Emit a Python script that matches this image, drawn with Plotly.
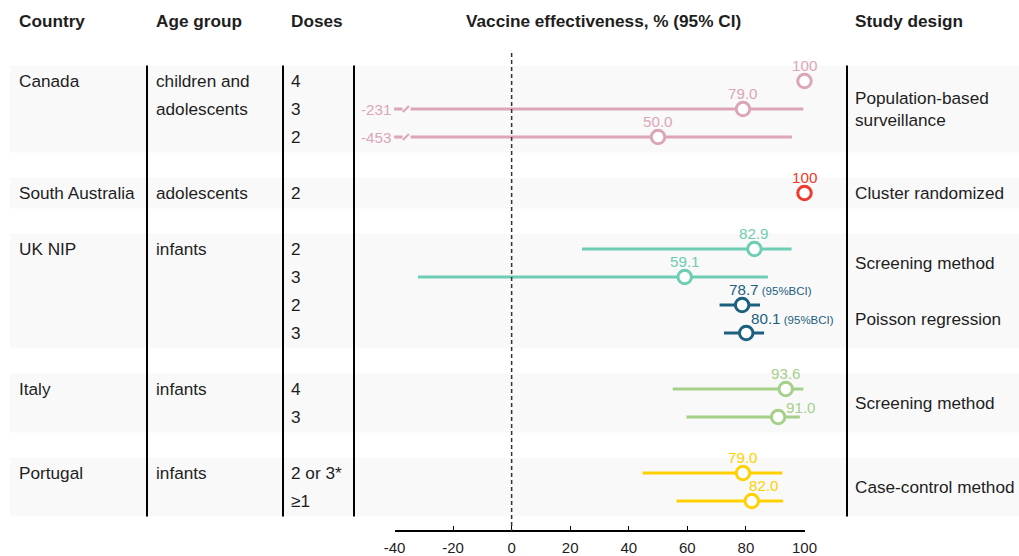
import plotly.graph_objects as go

# ---------------- data ----------------
countries = ["Canada", "South Australia", "UK NIP", "Italy", "Portugal"]
country_rows = [0, 4, 6, 11, 14]
age_lines = ["children and", "adolescents", "adolescents", "infants", "infants", "infants"]
age_rows = [0, 1, 4, 6, 11, 14]
group_first = [0, 4, 6, 11, 14]
group_last = [2, 4, 9, 12, 15]

designs = ["Population-based<br>surveillance", "Cluster randomized", "Screening method",
           "Poisson regression", "Screening method", "Case-control method"]
design_rows = [1, 4, 6.5, 8.5, 11.5, 14.5]

est_rows = [0, 1, 2, 4, 6, 7, 8, 9, 11, 12, 14, 15]
est_doses = ["4", "3", "2", "2", "2", "3", "2", "3", "4", "3", "2 or 3*", "≥1"]
est_ve = [100, 79.0, 50.0, 100, 82.9, 59.1, 78.7, 80.1, 93.6, 91.0, 79.0, 82.0]
est_labels = ["100", "79.0", "50.0", "100", "82.9", "59.1", "78.7", "80.1", "93.6", "91.0", "79.0", "82.0"]
est_lo = [None, -231, -453, None, 24.0, -32.0, 71.0, 72.5, 55.0, 59.7, 44.7, 56.3]
est_hi = [None, 99.6, 95.7, None, 95.6, 87.5, 84.8, 86.2, 99.6, 98.4, 92.4, 92.7]
est_group = ["can", "can", "can", "sa", "uks", "uks", "ukp", "ukp", "it", "it", "pt", "pt"]
est_suffix = ["", "", "", "", "", "", "(95%BCI)", "(95%BCI)", "", "", "", ""]

x_ticks = [-40, -20, 0, 20, 40, 60, 80, 100]
x_tick_text = ["-40", "-20", "0", "20", "40", "60", "80", "100"]

# ---------------- styles / layout ----------------
W, H = 1019, 556
ROW0_PX, ROW_PX = 81, 28
AXIS_FLOOR = -34.5
colors = {"can": "#dba5ba", "sa": "#ee3a2e", "uks": "#6ecdb4", "ukp": "#1c5f7e",
          "it": "#a5d08a", "pt": "#ffd100"}
label_shift = {9: (23, 10), 11: (12, 16), 7: (18, 15)}
FONT = "Liberation Sans, Arial, sans-serif"
TXT = "#1e1e1e"
BODY = 17.2
VAL = 15.2

col_country, col_age, col_dose, col_design = 17, 154, 289, 853
vlines_px = [147, 283, 354, 847]


def px(x):
    return x / W


yr = [(H - ROW0_PX) / ROW_PX, -ROW0_PX / ROW_PX]

fig = go.Figure()

# CI lines
for i, r in enumerate(est_rows):
    lo, hi = est_lo[i], est_hi[i]
    if lo is None:
        continue
    c = colors[est_group[i]]
    x0 = max(lo, AXIS_FLOOR)
    fig.add_trace(go.Scatter(x=[x0, hi], y=[r, r], mode="lines",
                             line=dict(color=c, width=3), hoverinfo="skip",
                             showlegend=False, cliponaxis=False))
    if lo < AXIS_FLOOR:
        # axis break mark: short dash + slash, then the true lower bound
        fig.add_trace(go.Scatter(x=[AXIS_FLOOR - 4.2], y=[r], mode="markers",
                                 marker=dict(symbol="line-ew", size=6,
                                             line=dict(color=c, width=3)),
                                 hoverinfo="skip", showlegend=False, cliponaxis=False))
        fig.add_trace(go.Scatter(x=[AXIS_FLOOR - 1.6], y=[r], mode="markers",
                                 marker=dict(symbol="line-ne", size=6,
                                             line=dict(color=c, width=2)),
                                 hoverinfo="skip", showlegend=False, cliponaxis=False))
        fig.add_annotation(x=AXIS_FLOOR - 5, y=r, xref="x", yref="y", xanchor="right",
                           yanchor="middle", showarrow=False, xshift=-3,
                           text=f"{lo:g}",
                           font=dict(family=FONT, size=VAL, color=c))

# markers
for i, r in enumerate(est_rows):
    c = colors[est_group[i]]
    fig.add_trace(go.Scatter(x=[est_ve[i]], y=[r], mode="markers",
                             marker=dict(symbol="circle", size=13.5, color="white",
                                         line=dict(color=c, width=3)),
                             hoverinfo="skip", showlegend=False, cliponaxis=False))
    dx, dy = label_shift.get(i, (0, 16))
    if est_suffix[i]:
        fig.add_annotation(x=est_ve[i], y=r, xref="x", yref="y", xanchor="left",
                           yanchor="middle", showarrow=False,
                           xshift=dx - 15, yshift=dy,
                           text=f"{est_labels[i]}<span style='font-size:11.5px'> {est_suffix[i]}</span>",
                           font=dict(family=FONT, size=VAL, color=c))
    else:
        fig.add_annotation(x=est_ve[i], y=r, xref="x", yref="y", xanchor="center",
                           yanchor="middle", showarrow=False, xshift=dx, yshift=dy,
                           text=est_labels[i], font=dict(family=FONT, size=VAL, color=c))
    fig.add_annotation(x=px(col_dose), y=r, xref="paper", yref="y", xanchor="left",
                       yanchor="middle", showarrow=False, text=est_doses[i],
                       font=dict(family=FONT, size=BODY, color=TXT))

# bands
for a, b in zip(group_first, group_last):
    fig.add_shape(type="rect", xref="paper", yref="y", x0=px(10), x1=1,
                  y0=a - 0.55, y1=b + 0.55, fillcolor="#f9f9f9", line_width=0,
                  layer="below")

# vertical separators
for v in vlines_px:
    fig.add_shape(type="line", xref="paper", yref="y", x0=px(v), x1=px(v),
                  y0=group_first[0] - 0.55, y1=group_last[-1] + 0.55,
                  line=dict(color="black", width=2))

# zero line
fig.add_shape(type="line", xref="x", yref="y", x0=0, x1=0, y0=-1,
              y1=(H - 25 - ROW0_PX) / ROW_PX,
              line=dict(color="#333", width=1.5, dash="4px,3px"))

# table text
for name, r in zip(countries, country_rows):
    fig.add_annotation(x=px(col_country), y=r, xref="paper", yref="y", xanchor="left",
                       yanchor="middle", showarrow=False, text=name,
                       font=dict(family=FONT, size=BODY, color=TXT))
for name, r in zip(age_lines, age_rows):
    fig.add_annotation(x=px(col_age), y=r, xref="paper", yref="y", xanchor="left",
                       yanchor="middle", showarrow=False, text=name,
                       font=dict(family=FONT, size=BODY, color=TXT))
for name, r in zip(designs, design_rows):
    fig.add_annotation(x=px(col_design), y=r, xref="paper", yref="y", xanchor="left",
                       yanchor="middle", showarrow=False, text=name, align="left",
                       font=dict(family=FONT, size=BODY, color=TXT))

# headers
hy = (H - 21) / H
for txt, x in [("Country", col_country), ("Age group", col_age),
               ("Doses", col_dose), ("Study design", col_design)]:
    fig.add_annotation(x=px(x), y=hy, xref="paper", yref="paper", xanchor="left",
                       yanchor="middle", showarrow=False, text=f"<b>{txt}</b>",
                       font=dict(family=FONT, size=BODY, color=TXT))
fig.add_annotation(x=px(603), y=hy, xref="paper", yref="paper", xanchor="center",
                   yanchor="middle", showarrow=False,
                   text="<b>Vaccine effectiveness, % (95% CI)</b>",
                   font=dict(family=FONT, size=BODY, color=TXT))

fig.update_layout(
    width=W, height=H, margin=dict(l=0, r=0, t=0, b=0, pad=0, autoexpand=False),
    paper_bgcolor="white", plot_bgcolor="rgba(0,0,0,0)", showlegend=False,
    xaxis=dict(domain=[px(394.5), px(804.5)], range=[-40, 100], tickvals=x_ticks,
               ticktext=x_tick_text,
               showgrid=False, zeroline=False, showline=True, linecolor="black",
               linewidth=1.5, ticks="inside", ticklen=4, tickcolor="black",
               anchor="free", position=25 / H, automargin=False, ticklabelstandoff=3,
               tickfont=dict(family=FONT, size=15, color=TXT)),
    yaxis=dict(domain=[0, 1], range=yr, visible=False, automargin=False),
)

fig.write_html("out.html", config={"responsive": False, "displayModeBar": False},
               post_script="document.body.style.margin='0';document.body.style.padding='0';")
